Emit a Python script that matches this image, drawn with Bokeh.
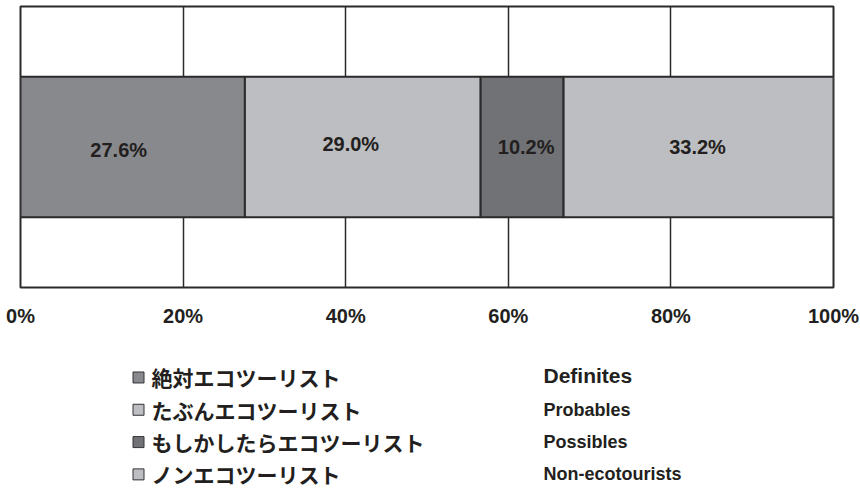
from bokeh.plotting import figure
from bokeh.layouts import column
from bokeh.models import Range1d, ColumnDataSource, FixedTicker, PrintfTickFormatter
from bokeh.core.properties import value
from bokeh.embed import file_html
from bokeh.resources import INLINE
import numpy as np

# ---- data ----
segments_jp = ["絶対エコツーリスト", "たぶんエコツーリスト", "もしかしたらエコツーリスト", "ノンエコツーリスト"]
segments_en = ["Definites", "Probables", "Possibles", "Non-ecotourists"]
shares = [27.6, 29.0, 10.2, 33.2]
share_labels = ["27.6%", "29.0%", "10.2%", "33.2%"]
x_ticks = [0, 20, 40, 60, 80, 100]

# ---- styles ----
colors = ["#88898c", "#bdbec1", "#717276", "#bdbec1"]
label_dx = [-14, -12, 4, -1]
label_dy = [3, -3, 0, 0]
en_sizes = ["21px", "18px", "18px", "18px"]
FONT = "Liberation Sans"

rights = np.cumsum(shares)
lefts = rights - np.array(shares)
src = ColumnDataSource(dict(
    left=lefts, right=rights, y=[0.5] * 4, color=colors,
    mid=(lefts + rights) / 2, lab=share_labels, dx=label_dx, dy=label_dy,
))

p = figure(width=860, height=345, x_range=Range1d(0, 100), y_range=Range1d(0, 1),
           output_backend="svg", toolbar_location=None, y_axis_location=None,
           min_border_left=20, min_border_right=27, min_border_top=6, min_border_bottom=58)
p.hbar(y="y", left="left", right="right", height=0.5, fill_color="color",
       line_color="#2a2a2a", line_width=2, source=src)
p.text(x="mid", y="y", text="lab", x_offset="dx", y_offset="dy", source=src,
       text_align="center", text_baseline="middle", text_font=value(FONT),
       text_font_style="bold", text_font_size="20px", text_color="#231f20")

p.xaxis.ticker = FixedTicker(ticks=x_ticks)
p.xaxis.formatter = PrintfTickFormatter(format="%d%%")
p.xaxis.major_tick_line_color = None
p.xaxis.minor_tick_line_color = None
p.xaxis.axis_line_color = None
p.xaxis.major_label_standoff = 11
p.xaxis.major_label_text_font = FONT
p.xaxis.major_label_text_font_style = "bold"
p.xaxis.major_label_text_font_size = "20px"
p.xaxis.major_label_text_color = "#231f20"
p.xgrid.ticker = FixedTicker(ticks=x_ticks)
p.xgrid.grid_line_color = "#2a2a2a"
p.xgrid.grid_line_width = 1.5
p.ygrid.visible = False
p.outline_line_color = "#2a2a2a"
p.outline_line_width = 2
p.background_fill_color = "white"

# ---- legend panel (its frame is aligned with the chart frame, 20..833 px) ----
rows = list(range(len(segments_jp)))
leg_src = ColumnDataSource(dict(row=rows, jp=segments_jp, en=segments_en, color=colors,
                                en_size=en_sizes, en_dy=[-2, 0, 0, 0]))
leg = figure(width=860, height=146, x_range=Range1d(20, 833), y_range=Range1d(3.53, -0.99),
             output_backend="svg", toolbar_location=None, x_axis_location=None,
             y_axis_location=None, min_border=0, min_border_left=20, min_border_right=27,
             outline_line_color=None)
leg.grid.visible = False
leg.scatter(x=138, y="row", marker="square", size=11, fill_color="color",
            line_color="#333333", line_width=1, source=leg_src)
leg.text(x=151, y="row", text="jp", source=leg_src, text_align="left", text_baseline="middle",
         text_font=value("Noto Sans CJK JP"), text_font_style="bold", text_font_size="21px",
         text_color="#231f20")
leg.text(x=543, y="row", text="en", source=leg_src, text_align="left", text_baseline="middle",
         y_offset="en_dy", text_font=value(FONT), text_font_style="bold",
         text_font_size="en_size", text_color="#231f20")

layout = column(p, leg, spacing=0)
open("out.html", "w").write(file_html(layout, INLINE))
